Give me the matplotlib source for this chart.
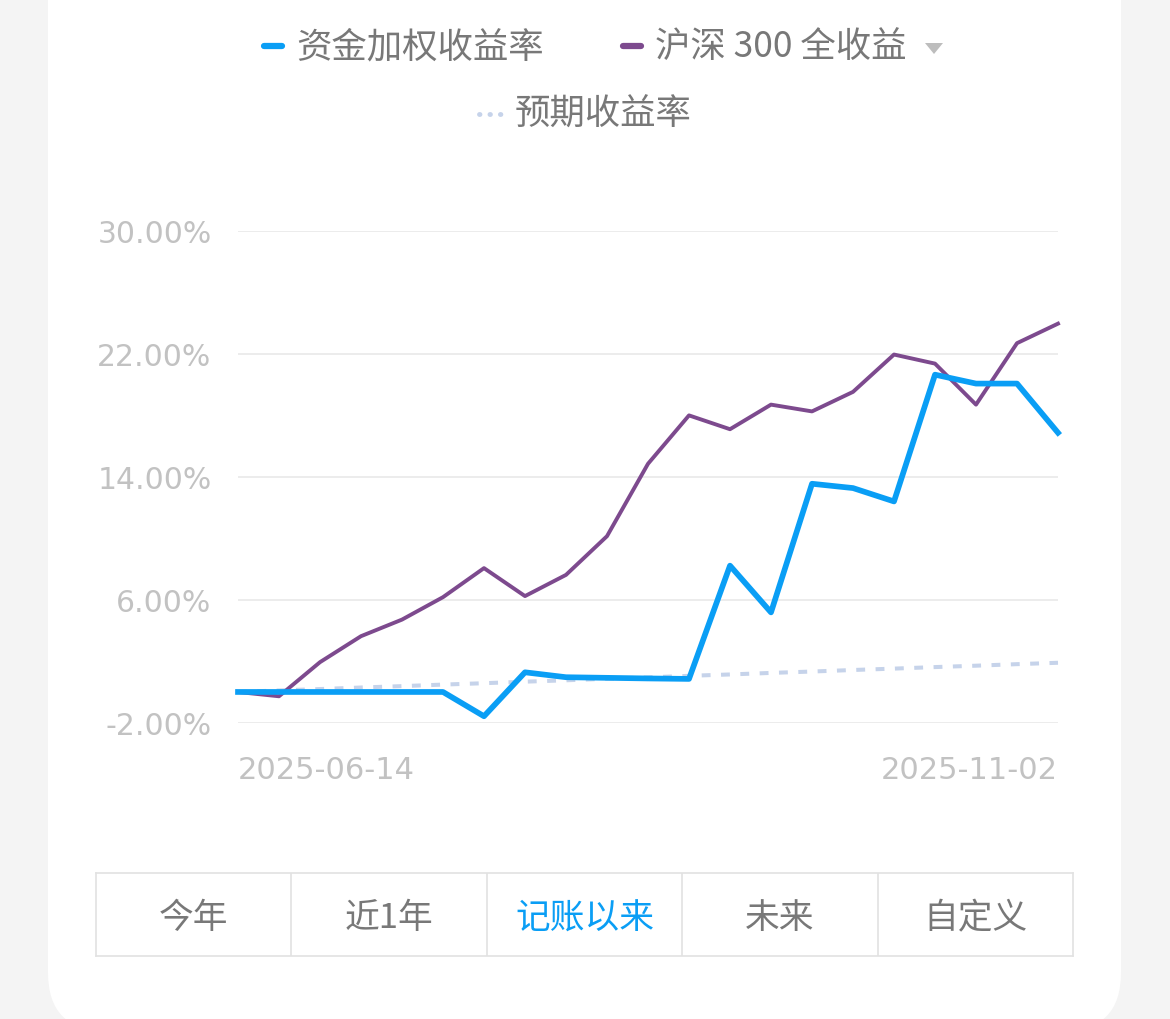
import matplotlib
matplotlib.use("Agg")
import matplotlib.pyplot as plt
from matplotlib.lines import Line2D
from matplotlib.patches import FancyBboxPatch, Polygon

plt.rcParams['font.family'] = ['Noto Sans CJK SC', 'DejaVu Sans']

# data (percent), 21 sample points between the two dates
weighted = [0.0, 0.0, 0.0, 0.0, 0.0, 0.0, -1.58, 1.28, 0.96, 0.92, 0.88, 0.85,
            8.22, 5.18, 13.55, 13.27, 12.4, 20.65, 20.07, 20.07, 16.87]
hs300 = [0.0, -0.28, 1.94, 3.63, 4.71, 6.17, 8.06, 6.24, 7.62, 10.14, 14.85, 18.0,
         17.1, 18.7, 18.26, 19.53, 21.96, 21.37, 18.7, 22.7, 23.97]
expected = [0.0, 0.1, 0.19, 0.29, 0.38, 0.48, 0.57, 0.67, 0.76, 0.86, 0.95, 1.05,
            1.14, 1.24, 1.33, 1.43, 1.52, 1.62, 1.71, 1.81, 1.9]
x_labels = ['2025-06-14', '2025-11-02']
y_ticks = [-2, 6, 14, 22, 30]
legend_names = ['资金加权收益率', '沪深 300 全收益', '预期收益率']
tabs = ['今年', '近1年', '记账以来', '未来', '自定义']
active_tab = 2

W, H = 1170, 1020
BLUE = '#0a9ef5'
PURPLE = '#7d4a8e'
DASH = '#c6d3ea'
GRAY_TXT = '#787878'
AX_TXT = '#c2c2c2'

fig = plt.figure(figsize=(W / 100, H / 100), dpi=100)
fig.patch.set_facecolor('#f4f4f4')

def fx(px):
    return px / W

def fy(py):
    return 1 - py / H

# white card with rounded bottom corners
card = FancyBboxPatch((fx(48), fy(1032)), fx(1121) - fx(48), fy(-60) - fy(1032),
                      boxstyle="round,pad=0,rounding_size=0.05",
                      transform=fig.transFigure, facecolor='white', edgecolor='none',
                      mutation_aspect=W / H, zorder=-5)
fig.patches.append(card)

ax = fig.add_axes([fx(238), fy(723.7), fx(1058) - fx(238), fy(232) - fy(723.7)])
ax.set_facecolor('none')
ax.set_zorder(2)
n = len(hs300)
xs = list(range(n))
ax.plot(xs, expected, color=DASH, lw=2.9, dashes=(2.2, 2.6), zorder=2, clip_on=False)
ax.plot(xs, hs300, color=PURPLE, lw=2.8, zorder=3, clip_on=False, solid_joinstyle='round')
ax.plot(xs, weighted, color=BLUE, lw=4.1, zorder=4, clip_on=False, solid_joinstyle='round')

ax.set_xlim(0, n - 1)
ax.set_ylim(-2, 30)
ax.set_yticks(y_ticks)
ax.set_yticklabels(['%.2f%%' % v for v in y_ticks], fontsize=21.5, color=AX_TXT,
                   family='DejaVu Sans')
ax.set_xticks([0, n - 1])
xl = ax.set_xticklabels(x_labels, fontsize=22, color=AX_TXT, family='DejaVu Sans')
xl[0].set_ha('left')
xl[1].set_ha('right')
ax.tick_params(axis='y', length=0, pad=19)
ax.tick_params(axis='x', length=0, pad=23)
ax.grid(axis='y', color='#ececec', lw=1.4)
ax.set_axisbelow(True)
for s in ax.spines.values():
    s.set_visible(False)

# legend
def legend_item(x0, x1, y, color, dashed=False):
    if dashed:
        fig.add_artist(Line2D([fx(x0), fx(x1)], [fy(y), fy(y)], transform=fig.transFigure,
                              color=color, lw=3.5, dashes=(0.1, 2.05),
                              solid_capstyle='round', dash_capstyle='round'))
    else:
        fig.add_artist(Line2D([fx(x0), fx(x1)], [fy(y), fy(y)], transform=fig.transFigure,
                              color=color, lw=4.5, solid_capstyle='round'))

legend_item(264, 282, 47, BLUE)
fig.text(fx(296), fy(47), legend_names[0], fontsize=25.5, color=GRAY_TXT, va='center', ha='left')
legend_item(623, 641, 47, PURPLE)
fig.text(fx(655), fy(47), legend_names[1], fontsize=25.5, color=GRAY_TXT, va='center', ha='left')
fig.patches.append(Polygon([[fx(925), fy(44)], [fx(943), fy(44)], [fx(934), fy(55)]],
                           closed=True, transform=fig.transFigure, facecolor='#bdbdbd',
                           edgecolor='none'))
legend_item(479, 501, 115, DASH, dashed=True)
fig.text(fx(515), fy(115), legend_names[2], fontsize=25.5, color=GRAY_TXT, va='center', ha='left')

# tab bar
tab_ax = fig.add_axes([fx(96), fy(957), fx(1073) - fx(96), fy(874) - fy(957)])
tab_ax.set_xlim(0, len(tabs))
tab_ax.set_ylim(0, 1)
tab_ax.set_xticks([])
tab_ax.set_yticks([])
for s in tab_ax.spines.values():
    s.set_color('#e2e2e2')
    s.set_linewidth(1.2)
for i in range(1, len(tabs)):
    tab_ax.axvline(i, color='#e2e2e2', lw=1.2)
for i, t in enumerate(tabs):
    tab_ax.text(i + 0.5, 0.46, t, ha='center', va='center', fontsize=25,
                color=BLUE if i == active_tab else GRAY_TXT)

fig.savefig('out.png', dpi=100, facecolor=fig.get_facecolor())
